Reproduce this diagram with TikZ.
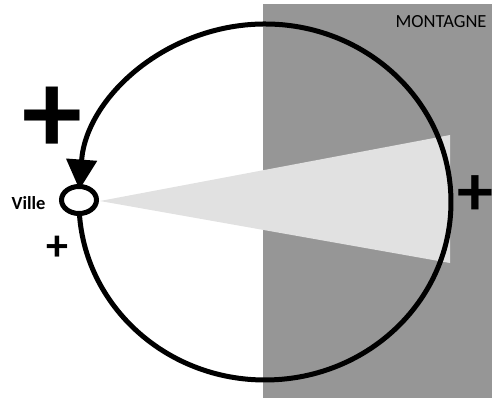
\documentclass[tikz,border=0pt]{standalone}
\usepackage{fontspec}
\setmainfont{Carlito}
\usetikzlibrary{arrows.meta,shapes.geometric}

\definecolor{montgris}{RGB}{150,150,150}
\definecolor{cone}{RGB}{225,225,225}

\tikzset{
  boucle/.style={line width=5pt},
  signe/.style={inner sep=0pt, font=\bfseries}
}

\begin{document}
\begin{tikzpicture}[x=1pt, y=-1pt]
  \useasboundingbox (0,0) rectangle (492,398);
  % montagne et cone
  \fill[montgris] (263,4) rectangle (492,398);
  \fill[cone] (100,201) -- (450,135) -- (450,263) -- cycle;
  \node[anchor=base east, font=\fontsize{18.5}{20}\selectfont] (montagne) at (490,28) {MONTAGNE};
  % boucle autour de la ville
  \coordinate (depart) at (79.1,208.2);
  \draw[boucle, -{Triangle[length=30pt, width=30pt]}] (depart)
    arc[start angle=178, end angle=-176, x radius=186, y radius=178];
  \node[draw, line width=5pt, fill=white, ellipse, minimum width=35pt, minimum height=27pt,
        inner sep=0pt] (ville) at (79,200) {};
  \node[font=\fontsize{18.5}{20}\selectfont\bfseries, anchor=east] (nomville) at (49,203) {Ville};
  % signes
  \node[signe, font=\fontsize{120}{120}\selectfont\bfseries] (plusgrand) at (52,120) {+};
  \node[signe, font=\fontsize{72}{74}\selectfont\bfseries] (plusdroite) at (475,196) {+};
  \node[signe, font=\fontsize{44}{46}\selectfont\bfseries] (pluspetit) at (57,248) {+};
\end{tikzpicture}
\end{document}
